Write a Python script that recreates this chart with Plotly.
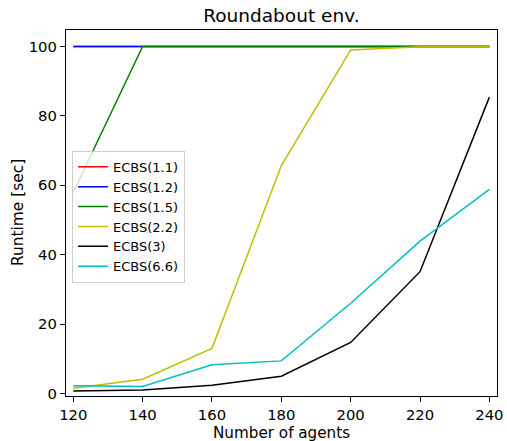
import plotly.graph_objects as go

agents = [120, 140, 160, 180, 200, 220, 240]
names = ["ECBS(1.1)", "ECBS(1.2)", "ECBS(1.5)", "ECBS(2.2)", "ECBS(3)", "ECBS(6.6)"]
ecbs_1_1 = [100, 100, 100, 100, 100, 100, 100]
ecbs_1_2 = [100, 100, 100, 100, 100, 100, 100]
ecbs_1_5 = [58, 100, 100, 100, 100, 100, 100]
ecbs_2_2 = [1.5, 4.1, 13.0, 65.7, 99.0, 99.9, 99.9]
ecbs_3 = [0.7, 1.0, 2.4, 5.0, 14.7, 35.1, 85.4]
ecbs_6_6 = [2.2, 2.0, 8.3, 9.4, 26.0, 43.9, 58.8]
series = [ecbs_1_1, ecbs_1_2, ecbs_1_5, ecbs_2_2, ecbs_3, ecbs_6_6]
colors = ["#ff0000", "#0000ff", "#008000", "#bfbf00", "#000000", "#00bfbf"]
x_ticks = [120, 140, 160, 180, 200, 220, 240]
y_ticks = [0, 20, 40, 60, 80, 100]
x_title = "Number of agents"
y_title = "Runtime [sec]"

fig = go.Figure()
for n, s, c in zip(names, series, colors):
    fig.add_trace(go.Scatter(x=agents, y=s, mode="lines", name=n,
                             line=dict(color=c, width=1.5)))

font = "DejaVu Sans"
axis_common = dict(showline=True, mirror=True, linecolor="black", linewidth=1.2,
                   ticks="outside", ticklen=5, tickwidth=1, tickcolor="black",
                   showgrid=False, zeroline=False, automargin=False,
                   tickfont=dict(family=font, size=14.8, color="black"))
fig.update_layout(
    width=507, height=441,
    margin=dict(l=66, r=10, t=29.5, b=45),
    paper_bgcolor="white", plot_bgcolor="white",
    title=dict(text="Roundabout env.", x=0.555, xanchor="center", y=0.965, yanchor="middle",
               font=dict(family=font, size=18.5, color="black")),
    xaxis=dict(range=[117.9, 242.2], tickvals=x_ticks, **axis_common),
    yaxis=dict(range=[-0.72, 104.75], tickvals=y_ticks, **axis_common),
    legend=dict(x=0.014, y=0.67, xanchor="left", yanchor="top",
                bgcolor="rgba(255,255,255,0.8)", bordercolor="#cccccc", borderwidth=1,
                font=dict(family=font, size=13, color="black"), tracegroupgap=0),
    showlegend=True,
    annotations=[
        dict(text=x_title, xref="paper", yref="paper", x=0.5, y=0, xanchor="center",
             yanchor="middle", yshift=-36.5, showarrow=False,
             font=dict(family=font, size=15.2, color="black")),
        dict(text=y_title, xref="paper", yref="paper", x=0, y=0.5, xanchor="center",
             yanchor="middle", xshift=-48, textangle=-90, showarrow=False,
             font=dict(family=font, size=15.4, color="black")),
    ],
)
fig.write_html("out.html")
